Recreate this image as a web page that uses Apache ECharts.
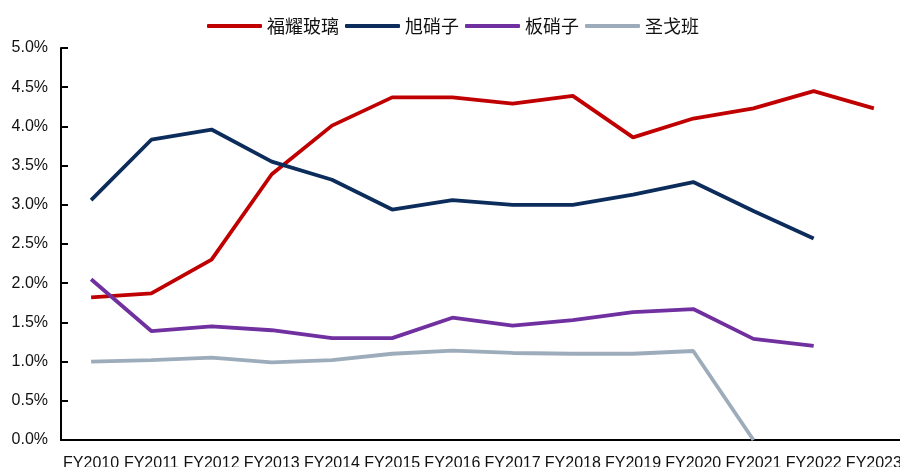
<!DOCTYPE html>
<html>
<head>
<meta charset="utf-8">
<script src="https://cdn.jsdelivr.net/npm/echarts@6/dist/echarts.min.js"></script>
<style>
  html, body { margin: 0; padding: 0; background: #fff; }
  #main { width: 900px; height: 467px; }
</style>
</head>
<body>
<div id="main"></div>
<script>
// 年份
var years = ['FY2010', 'FY2011', 'FY2012', 'FY2013', 'FY2014', 'FY2015', 'FY2016',
  'FY2017', 'FY2018', 'FY2019', 'FY2020', 'FY2021', 'FY2022', 'FY2023'];

// 各公司数值（%）
var fuyao = [1.82, 1.87, 2.30, 3.39, 4.01, 4.37, 4.37, 4.29, 4.39, 3.86, 4.10, 4.23, 4.45, 4.23];
var agc = [3.06, 3.83, 3.96, 3.55, 3.32, 2.94, 3.06, 3.00, 3.00, 3.13, 3.29, 2.92, 2.57, null];
var nsg = [2.05, 1.39, 1.45, 1.40, 1.30, 1.30, 1.56, 1.46, 1.53, 1.63, 1.67, 1.29, 1.20, null];
var sgobain = [1.00, 1.02, 1.05, 0.99, 1.02, 1.10, 1.14, 1.11, 1.10, 1.10, 1.135, 0.00, null, null];

var seriesNames = ['福耀玻璃', '旭硝子', '板硝子', '圣戈班'];
var colors = ['#C00000', '#0C2D5B', '#7030A0', '#9DACBB'];

var font = '"Liberation Sans", Arial, "Noto Sans CJK SC", sans-serif';

var chart = echarts.init(document.getElementById('main'), null, { renderer: 'canvas' });

function line(name, data, color) {
  return {
    name: name,
    type: 'line',
    data: data,
    symbol: 'none',
    connectNulls: false,
    lineStyle: { width: 3.8, color: color },
    itemStyle: { color: color }
  };
}

var option = {
  backgroundColor: '#ffffff',
  animation: false,
  color: colors,
  legend: {
    data: seriesNames,
    top: 12,
    left: 202,
    icon: 'roundRect',
    itemWidth: 55,
    itemHeight: 4,
    itemGap: 6,
    textStyle: { fontSize: 18, color: '#111', fontFamily: '"Noto Sans CJK SC", sans-serif' }
  },
  grid: {
    left: 61,
    right: -4,
    top: 48,
    bottom: 27,
    containLabel: false,
    outerBoundsMode: 'none'
  },
  xAxis: {
    type: 'category',
    data: years,
    boundaryGap: true,
    axisLine: { lineStyle: { color: '#000', width: 2 } },
    axisTick: { inside: true, length: 7, lineStyle: { color: '#000', width: 2 } },
    axisLabel: { interval: 0, margin: 16, fontSize: 16, color: '#111', fontFamily: font }
  },
  yAxis: {
    type: 'value',
    min: 0,
    max: 5,
    interval: 0.5,
    splitLine: { show: false },
    axisLine: { show: true, lineStyle: { color: '#000', width: 2 } },
    axisTick: { show: true, inside: true, length: 7, lineStyle: { color: '#000', width: 2 } },
    axisLabel: {
      margin: 13,
      fontSize: 16,
      color: '#111',
      fontFamily: font,
      formatter: function (v) { return v.toFixed(1) + '%'; }
    }
  },
  series: [
    line(seriesNames[0], fuyao, colors[0]),
    line(seriesNames[1], agc, colors[1]),
    line(seriesNames[2], nsg, colors[2]),
    line(seriesNames[3], sgobain, colors[3])
  ]
};

chart.setOption(option);
</script>
</body>
</html>
